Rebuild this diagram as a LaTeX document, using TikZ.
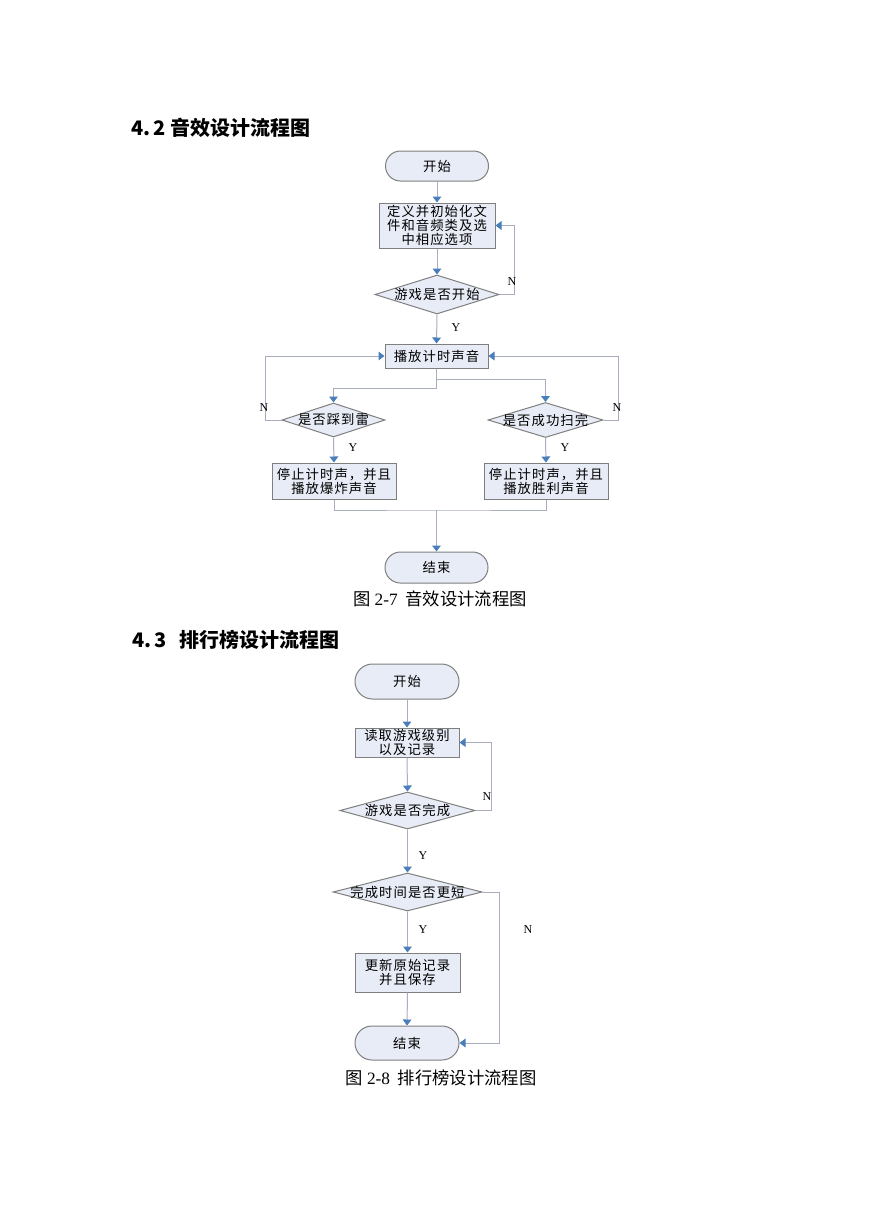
\documentclass[tikz,border=0pt]{standalone}
\usepackage{fontspec}
\setmainfont{Liberation Serif}
\newfontfamily\cjk{Noto Sans CJK SC}
\newfontfamily\cjksp[LetterSpace=8]{Noto Sans CJK SC}
\usetikzlibrary{shapes.geometric,shapes.misc,arrows.meta}
\definecolor{boxfill}{HTML}{E8ECF6}
\definecolor{boxline}{HTML}{7F7F7F}
\definecolor{conline}{HTML}{A8AEC0}
\definecolor{arrblue}{HTML}{4A7EBB}
\tikzset{
  base/.style={draw=boxline, fill=boxfill, line width=0.75pt, inner sep=0pt,
    font=\cjksp\fontsize{10}{10.5}\selectfont, align=center},
  term/.style={base, rounded rectangle},
  proc/.style={base, rectangle},
  dec/.style={base, diamond},
  dectext/.style={inner sep=0pt, font=\cjksp\fontsize{10}{10.5}\selectfont},
  line/.style={draw=conline, line width=0.75pt},
  conn/.style={line, -{Triangle[width=6.5pt,length=4.5pt,color=arrblue]}},
  yn/.style={font=\fontsize{9}{10}\selectfont, inner sep=0pt},
  head/.style={anchor=west, inner sep=0pt, font=\cjk\bfseries\fontsize{15}{18}\selectfont},
  captext/.style={inner sep=0pt, font=\fontsize{13}{15}\selectfont},
}
\begin{document}
\begin{tikzpicture}[x=0.75pt,y=-0.75pt]
\useasboundingbox[fill=white] (0,0) rectangle (869,1228);

% ---------- 4.2 ----------
\node[head] (h1) at (131,128) {4.\,2 音效设计流程图};

\node[term, minimum width=77.25pt, minimum height=22.5pt] (s1) at (437,166) {开始};
\node[proc, minimum width=87pt, minimum height=33.75pt] (b1) at (437,225.5) {定义并初始化文\\件和音频类及选\\中相应选项};
\node[dec, minimum width=93pt, minimum height=29.25pt] (d1) at (437,294.5) {};
\node[dectext] (d1t) at (d1.center) {游戏是否开始};
\node[proc, minimum width=77.25pt, minimum height=18pt] (b2) at (436.5,356) {播放计时声音};
\node[dec, minimum width=77.25pt, minimum height=25.5pt] (d2) at (333.5,420) {};
\node[dectext] (d2t) at (d2.center) {是否踩到雷};
\node[dec, minimum width=86.25pt, minimum height=26.25pt] (d3) at (545.5,420) {};
\node[dectext] (d3t) at (d3.center) {是否成功扫完};
\node[proc, minimum width=93pt, minimum height=27pt] (b3) at (334,481) {停止计时声，并且\\播放爆炸声音};
\node[proc, minimum width=93pt, minimum height=27pt] (b4) at (546,481) {停止计时声，并且\\播放胜利声音};
\node[term, minimum width=77.25pt, minimum height=23.25pt] (e1) at (436.5,567.5) {结束};

\draw[conn] (s1.south) -- (b1.north);
\draw[conn] (b1.south) -- (d1.north);
\draw[conn] (d1.east) -- ++(15,0) |- (b1.east);
\draw[conn] (d1.south) -- (b2.north);
\draw[conn] (b2.south) -- ++(0,20) -| (d2.north);
\draw[conn] (b2.south) ++(0,11) -| (d3.north);
\draw[conn] (d2.west) -- ++(-16,0) |- (b2.west);
\draw[conn] (d3.east) -- ++(15,0) |- (b2.east);
\draw[conn] (d2.south) -- (b3.north);
\draw[conn] (d3.south) -- (b4.north);
\coordinate (m1) at (436.5,510);
\draw[line] (b3.south) |- (m1) -| (b4.south);
\draw[conn] (m1) -- (e1.north);

\node[yn] (y1) at (456,328) {Y};
\node[yn] (n1) at (512,282) {N};
\node[yn] (n2) at (264,408) {N};
\node[yn] (n3) at (617,408) {N};
\node[yn] (y2) at (353,448) {Y};
\node[yn] (y3) at (565,448) {Y};

\node[captext] (c1) at (440,599) {{\cjk 图} 2-7\hspace{0.45em}{\cjk 音效设计流程图}};

% ---------- 4.3 ----------
\node[head] (h2) at (132,640) {4.\,3\hspace{0.4em} 排行榜设计流程图};

\node[term, minimum width=78pt, minimum height=26.25pt] (s2) at (407,681.5) {开始};
\node[proc, minimum width=78pt, minimum height=21.75pt] (b5) at (407,742.5) {读取游戏级别\\以及记录};
\node[dec, minimum width=101.25pt, minimum height=27.75pt] (d4) at (407.5,810.5) {};
\node[dectext] (d4t) at (d4.center) {游戏是否完成};
\node[dec, minimum width=111.75pt, minimum height=28.5pt] (d5) at (407.5,892) {};
\node[dectext] (d5t) at (d5.center) {完成时间是否更短};
\node[proc, minimum width=78.75pt, minimum height=29.25pt] (b6) at (407.5,972.5) {更新原始记录\\并且保存};
\node[term, minimum width=78pt, minimum height=25.5pt] (e2) at (407,1043) {结束};

\draw[conn] (s2.south) -- (b5.north);
\draw[conn] (b5.south) -- (d4.north);
\draw[conn] (d4.east) -- ++(16,0) |- (b5.east);
\draw[conn] (d4.south) -- (d5.north);
\draw[conn] (d5.south) -- (b6.north);
\draw[conn] (b6.south) -- (e2.north);
\draw[conn] (d5.east) -- ++(17,0) |- (e2.east);

\node[yn] (n4) at (487,797) {N};
\node[yn] (y4) at (423,856) {Y};
\node[yn] (y5) at (423,930) {Y};
\node[yn] (n5) at (528,930) {N};

\node[captext] (c2) at (441,1078) {{\cjk 图} 2-8\hspace{0.45em}{\cjk 排行榜设计流程图}};
\end{tikzpicture}
\end{document}
